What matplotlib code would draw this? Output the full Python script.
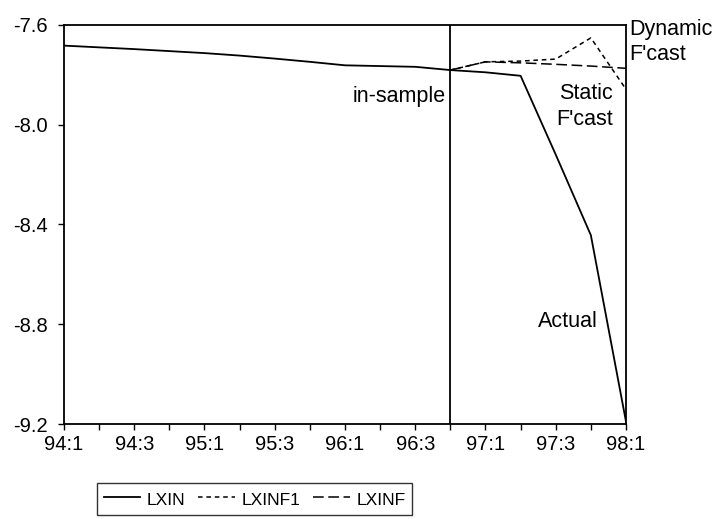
import matplotlib
matplotlib.use("Agg")
import matplotlib.pyplot as plt

plt.rcParams['font.family'] = ['Liberation Sans', 'DejaVu Sans']

quarters = ["94:1", "94:2", "94:3", "94:4", "95:1", "95:2", "95:3", "95:4",
            "96:1", "96:2", "96:3", "96:4", "97:1", "97:2", "97:3", "97:4", "98:1"]
lxin = [-7.683, -7.690, -7.697, -7.705, -7.713, -7.723, -7.735, -7.748,
        -7.762, -7.765, -7.768, -7.781, -7.790, -7.804, -8.12, -8.443, -9.19]
fc_quarters = ["96:4", "97:1", "97:2", "97:3", "97:4", "98:1"]
lxinf1 = [-7.781, -7.748, -7.745, -7.737, -7.652, -7.858]
lxinf = [-7.781, -7.748, -7.752, -7.758, -7.765, -7.774]
split_quarter = "96:4"

idx = {q: i for i, q in enumerate(quarters)}
x_all = [idx[q] for q in quarters]
x_fc = [idx[q] for q in fc_quarters]

fig = plt.figure(figsize=(7.15, 5.19), dpi=100)
ax = fig.add_axes([0.0895, 0.183, 0.786, 0.769])

ax.plot(x_all, lxin, color='black', lw=1.3, label='LXIN')
ax.plot(x_fc, lxinf1, color='black', lw=1.1, linestyle=(0, (3, 2.5)), label='LXINF1')
ax.plot(x_fc, lxinf, color='black', lw=1.1, linestyle=(0, (7, 3)), label='LXINF')
ax.axvline(idx[split_quarter], color='black', lw=1.3)

ax.set_xlim(0, len(quarters) - 1)
ax.set_ylim(-9.2, -7.6)
ax.set_yticks([-7.6, -8.0, -8.4, -8.8, -9.2])
ax.set_yticklabels(["-7.6", "-8.0", "-8.4", "-8.8", "-9.2"])
ax.set_xticks(x_all)
ax.set_xticklabels([q if i % 2 == 0 else "" for i, q in enumerate(quarters)])
ax.tick_params(axis='both', direction='out', length=4.3, width=1, labelsize=14.5, colors='black')
ax.tick_params(axis='y', pad=7.5)
ax.tick_params(axis='x', pad=3.5)
for s in ax.spines.values():
    s.set_linewidth(1.3)
    s.set_color('black')

fs = 15.5
ax.text(idx[split_quarter] - 0.12, -7.888, "in-sample", ha='right', va='center', fontsize=fs)
ax.text(16.08, -7.575, "Dynamic\nF'cast", ha='left', va='top', fontsize=fs,
        linespacing=1.26, clip_on=False)
ax.text(15.62, -7.832, "Static\nF'cast", ha='right', va='top', fontsize=fs,
        linespacing=1.33, multialignment='right')
ax.text(15.2, -8.79, "Actual", ha='right', va='center', fontsize=fs)

leg = fig.legend(loc='center', bbox_to_anchor=(254.5 / 715, 1 - 499 / 519), ncol=3,
                 prop={'size': 12.5}, frameon=True, fancybox=False,
                 edgecolor='black', handlelength=2.1, handletextpad=0.38,
                 handleheight=1.3, columnspacing=0.75, borderpad=0.4,
                 borderaxespad=0)
leg.get_frame().set_linewidth(1.0)

fig.savefig("out.png", dpi=100)
